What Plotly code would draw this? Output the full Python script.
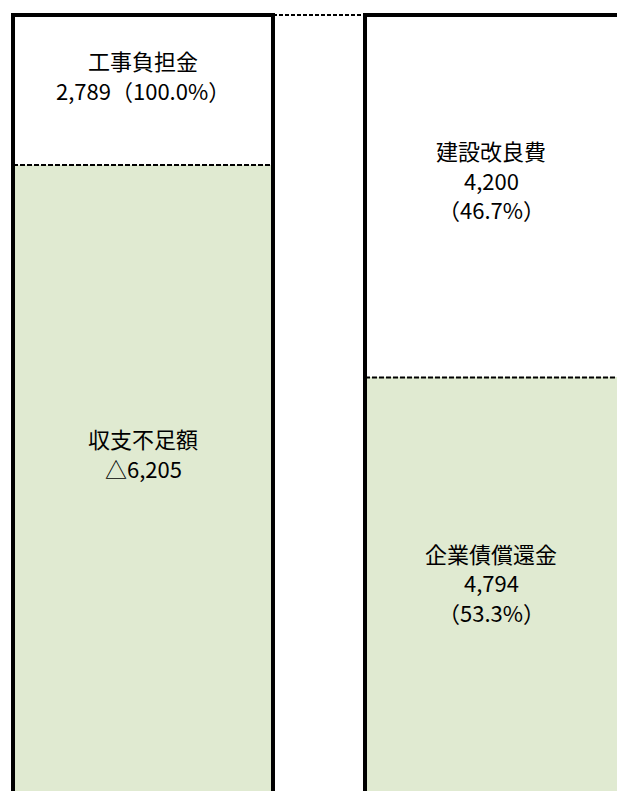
import plotly.graph_objects as go

# ---- data ----
columns = [0, 1]
top_names = ["工事負担金", "建設改良費"]
top_values = [2789, 4200]
top_pct = ["100.0%", "46.7%"]
bottom_names = ["収支不足額", "企業債償還金"]
bottom_values = [-6205, 4794]
bottom_pct = [None, "53.3%"]
# drawn segment heights (left column is not drawn to scale in the original)
top_heights = [1739, 4200]
bottom_heights = [7255, 4794]

# ---- layout constants ----
X_RANGE = [-0.40625, 1.34659]
Y_RANGE = [0, 9168]
PLOT_H = 791
BAR_W = 0.7386
LABEL_FRAC_TOP = [0.60, 0.545]
LABEL_FRAC_BOTTOM = [0.54, 0.505]
LINE_PITCH_PX = 29.5
GREEN = "#E0EAD1"
FONT = "Noto Sans CJK JP"
FONT_SIZE = 22


def fmt(v):
    return ("△" if v < 0 else "") + f"{abs(v):,}"


units_per_px = (Y_RANGE[1] - Y_RANGE[0]) / PLOT_H
pitch = LINE_PITCH_PX * units_per_px

fig = go.Figure()
fig.add_trace(go.Bar(x=columns, y=bottom_heights, width=BAR_W,
                     marker=dict(color=GREEN, line=dict(width=0)),
                     hoverinfo="skip", showlegend=False))
fig.add_trace(go.Bar(x=columns, y=top_heights, width=BAR_W,
                     marker=dict(color="white", line=dict(width=0)),
                     hoverinfo="skip", showlegend=False))

shapes = []
annotations = []


def add_block(lines, xc, yc):
    n = len(lines)
    for k, t in enumerate(lines):
        y = yc + ((n - 1) / 2 - k) * pitch
        annotations.append(dict(x=xc, y=y, xref="x", yref="y", text=t,
                                showarrow=False, xanchor="center", yanchor="middle",
                                borderpad=0,
                                font=dict(family=FONT, size=FONT_SIZE, color="black")))


for i, c in enumerate(columns):
    left = c - BAR_W / 2
    right = c + BAR_W / 2
    total = top_heights[i] + bottom_heights[i]
    shapes.append(dict(type="line", xref="x", yref="y", x0=left, x1=right,
                       y0=bottom_heights[i], y1=bottom_heights[i],
                       line=dict(color="black", width=2, dash="5px,2px")))
    shapes.append(dict(type="path", xref="x", yref="y",
                       path=f"M {left},{-1000} L {left},{total} L {right},{total} L {right},{-1000}",
                       line=dict(color="black", width=4),
                       fillcolor="rgba(0,0,0,0)"))
    xl = (max(left, X_RANGE[0]) + min(right, X_RANGE[1])) / 2
    if i == 0:
        tl = [top_names[i], f"{fmt(top_values[i])}（{top_pct[i]}）"]
    else:
        tl = [top_names[i], fmt(top_values[i]), f"（{top_pct[i]}）"]
    add_block(tl, xl, bottom_heights[i] + LABEL_FRAC_TOP[i] * top_heights[i])
    bl = [bottom_names[i], fmt(bottom_values[i])]
    if bottom_pct[i]:
        bl.append(f"（{bottom_pct[i]}）")
    add_block(bl, xl, LABEL_FRAC_BOTTOM[i] * bottom_heights[i])

t0 = top_heights[0] + bottom_heights[0]
shapes.insert(0, dict(type="line", xref="x", yref="y",
                      x0=columns[0] + BAR_W / 2, x1=columns[1] - BAR_W / 2,
                      y0=t0, y1=t0,
                      line=dict(color="black", width=2, dash="4px,2px")))

fig.update_layout(
    width=617, height=791,
    margin=dict(l=0, r=0, t=0, b=0),
    barmode="stack",
    bargap=0,
    paper_bgcolor="white", plot_bgcolor="white",
    xaxis=dict(range=X_RANGE, visible=False, fixedrange=True),
    yaxis=dict(range=Y_RANGE, visible=False, fixedrange=True),
    shapes=shapes,
    annotations=annotations,
    showlegend=False,
)

fig.write_html("out.html")
